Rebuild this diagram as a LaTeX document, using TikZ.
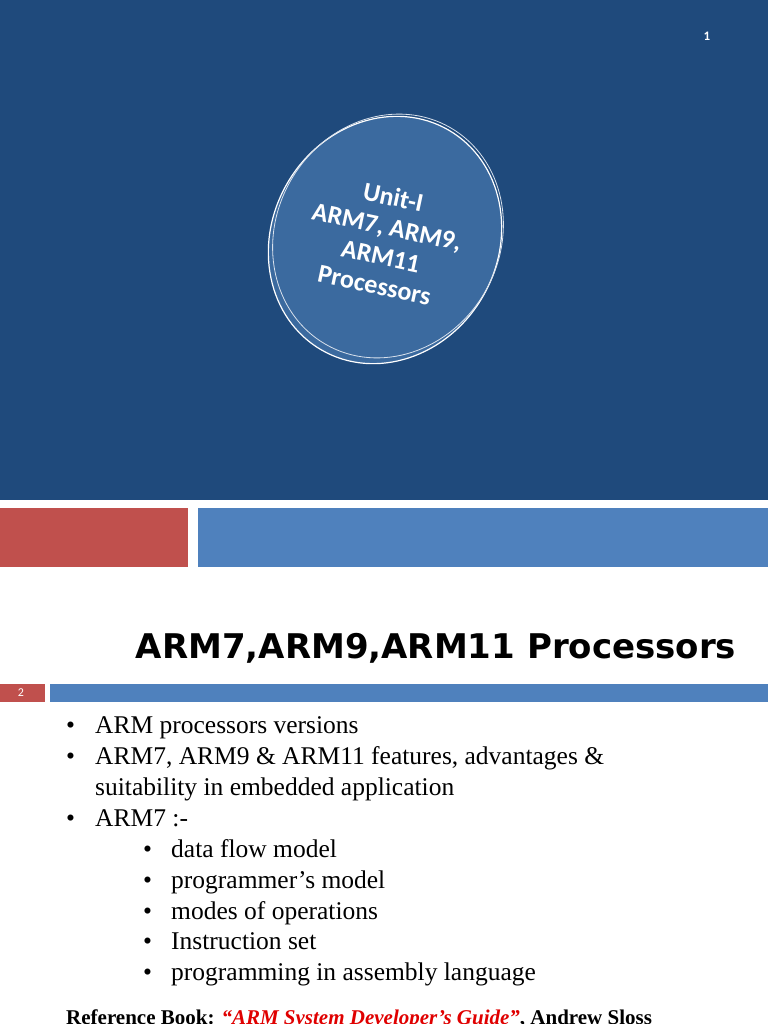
\documentclass[tikz,border=0pt]{standalone}
\usepackage{fontspec}
\setmainfont{Liberation Serif}
\newfontfamily\carlitofam{Carlito}
\newfontfamily\dejavufam{DejaVu Sans}
\definecolor{dkblue}{HTML}{1F4A7C}
\definecolor{midblue}{HTML}{3B6A9F}
\definecolor{barblue}{HTML}{4F81BD}
\definecolor{barred}{HTML}{C0504D}
\definecolor{refred}{HTML}{E00000}
\tikzset{bul/.style={anchor=base west,inner sep=0pt,font=\fontsize{25.5}{28}\selectfont}}
\begin{document}
\begin{tikzpicture}[x=1pt,y=-1pt]
\useasboundingbox (0,0) rectangle (768,1024);
\fill[white] (0,0) rectangle (768,1024);
\fill[dkblue] (0,0) rectangle (768,500);
\node[text=white,font=\carlitofam\fontsize{13}{14}\bfseries\selectfont] (pg1) at (707,36) {1};
\fill[midblue,rotate around={-30:(385,240)}] (385,240) ellipse (113 and 127);
\draw[white,line width=1.2pt,rotate around={-30:(385,240)}] (385,240) ellipse (113 and 127);
\draw[white!80!midblue,line width=0.8pt,rotate around={-30:(388,236)}] (388,236) ellipse (112 and 125);
\node[rotate=-12,text=white,align=center,font=\carlitofam\fontsize{26}{30}\bfseries\selectfont] (ttl1) at (384,241) {Unit-I\\ARM7, ARM9,\\ARM11\\Processors};
\fill[barred] (0,508) rectangle (188,567);
\fill[barblue] (198,508) rectangle (768,567);
\node[font=\dejavufam\fontsize{34}{38}\bfseries\selectfont] (ttl2) at (436,648) {ARM7,ARM9,ARM11 Processors};
\fill[barred] (0,684) rectangle (45,702);
\node[text=white,font=\carlitofam\fontsize{12}{13}\selectfont] (pg2) at (21,693) {2};
\fill[barblue] (50,684) rectangle (768,702);
\foreach \y/\t in {733/ARM processors versions,764/{ARM7, ARM9 \& ARM11 features, advantages \&},826/ARM7 :-}{
  \node[bul] at (66,\y) {\textbullet};
  \node[bul] at (95,\y) {\t};}
\node[bul] (s1) at (95,795) {suitability in embedded application};
\foreach \y/\t in {857/data flow model,888/programmer’s model,919/modes of operations,949/Instruction set,980/programming in assembly language}{
  \node[bul] at (143,\y) {\textbullet};
  \node[bul] at (171,\y) {\t};}
\node[anchor=base west,inner sep=0pt,font=\fontsize{21}{22}\bfseries\selectfont] (ref) at (66,1024) {Reference Book: \textcolor{refred}{\itshape “ARM System Developer’s Guide”}, Andrew Sloss};
\end{tikzpicture}
\end{document}
